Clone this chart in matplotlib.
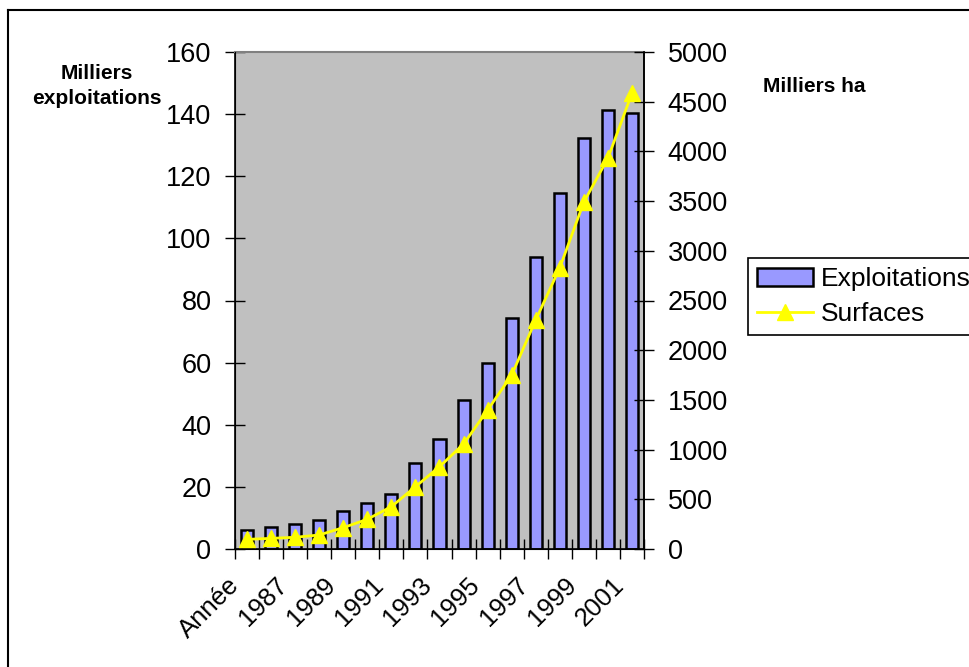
import numpy as np
import matplotlib
matplotlib.use("Agg")
import matplotlib.pyplot as plt
import matplotlib.transforms as mtransforms
from matplotlib.lines import Line2D

plt.rcParams['font.family'] = ['Liberation Sans', 'DejaVu Sans']

# donnees
categories = ["Année", "1986", "1987", "1988", "1989", "1990", "1991", "1992", "1993",
              "1994", "1995", "1996", "1997", "1998", "1999", "2000", "2001"]
exploitations = [6.1, 7.0, 7.9, 9.3, 12.2, 14.7, 17.7, 27.8, 35.4,
                 48.0, 59.8, 74.5, 94.1, 114.5, 132.4, 141.3, 140.3]
surfaces = [97, 107, 118, 141, 215, 299, 426, 627, 828,
            1056, 1398, 1750, 2304, 2830, 3490, 3932, 4585]
left_ticks = [0, 20, 40, 60, 80, 100, 120, 140, 160]
right_ticks = [0, 500, 1000, 1500, 2000, 2500, 3000, 3500, 4000, 4500, 5000]

W, H = 970, 667
fig = plt.figure(figsize=(W / 100, H / 100), dpi=100, facecolor='white')

ax = fig.add_axes([235 / W, 1 - 549 / H, (644 - 235) / W, (549 - 52) / H])
ax.set_facecolor('#C0C0C0')
x = np.arange(len(categories))

ax.bar(x, exploitations, width=0.5, color='#9999FF', edgecolor='black',
       linewidth=1.8, zorder=2)
ax.set_xlim(-0.5, len(categories) - 0.5)
ax.set_ylim(0, 160)
ax.set_yticks(left_ticks)
ax.set_yticklabels([str(t) for t in left_ticks], fontsize=19.5)

# ticks aux limites des categories, etiquettes une sur deux
ax.set_xticks(np.arange(len(categories) + 1) - 0.5)
ax.set_xticklabels([])
ax.set_xticks(x[::2], minor=True)
ax.set_xticklabels(categories[::2], minor=True, rotation=45, ha='right',
                   rotation_mode='anchor', fontsize=18.5)
ax.tick_params(axis='x', which='minor', length=0, pad=17)
ax.tick_params(axis='x', which='major', direction='inout', length=14, width=1)
ax.tick_params(axis='y', direction='inout', length=14, width=1, pad=10)
offset = mtransforms.ScaledTranslation(-20 / 100, 0, fig.dpi_scale_trans)
for lab in ax.get_xticklabels(minor=True):
    lab.set_transform(lab.get_transform() + offset)

for s in ['left', 'right', 'bottom']:
    ax.spines[s].set_color('black')
    ax.spines[s].set_linewidth(1.2)
ax.spines['top'].set_color('#808080')
ax.spines['top'].set_linewidth(1.5)

ax2 = ax.twinx()
ax2.plot(x, surfaces, color='#FFFF00', linewidth=2, marker='^', markersize=12,
         markerfacecolor='#FFFF00', markeredgecolor='#FFFF00', zorder=3)
ax2.set_ylim(0, 5000)
ax2.set_yticks(right_ticks)
ax2.set_yticklabels([str(t) for t in right_ticks], fontsize=19.5)
ax2.tick_params(axis='y', direction='inout', length=14, width=1, pad=10)
ax2.spines['top'].set_visible(False)
ax2.spines['right'].set_color('black')
ax2.spines['right'].set_linewidth(1.2)

fig.text(97 / W, 1 - 86 / H, "Milliers\nexploitations", ha='center', va='center',
         fontsize=15, fontweight='bold', linespacing=1.35)
fig.text(814 / W, 1 - 87 / H, "Milliers ha", ha='center', va='center',
         fontsize=15, fontweight='bold')

handles = [plt.Rectangle((0, 0), 1, 1, facecolor='#9999FF', edgecolor='black', linewidth=1.8),
           Line2D([], [], color='#FFFF00', linewidth=2, marker='^', markersize=12)]
leg = fig.legend(handles, ["Exploitations", "Surfaces"], loc='upper left',
                 bbox_to_anchor=(748 / W, 1 - 258 / H), borderaxespad=0,
                 fontsize=19, frameon=True, fancybox=False, framealpha=1,
                 edgecolor='black', handlelength=2.1, handleheight=0.7,
                 handletextpad=0.3, borderpad=0.35, labelspacing=0.4)
leg.get_frame().set_linewidth(1.2)

# cadre du graphique
fig.add_artist(Line2D([8 / W, 8 / W], [0, 1 - 10 / H], color='black', linewidth=1.5))
fig.add_artist(Line2D([8 / W, 1], [1 - 10 / H, 1 - 10 / H], color='black', linewidth=1.5))

fig.savefig("out.png", dpi=100)
